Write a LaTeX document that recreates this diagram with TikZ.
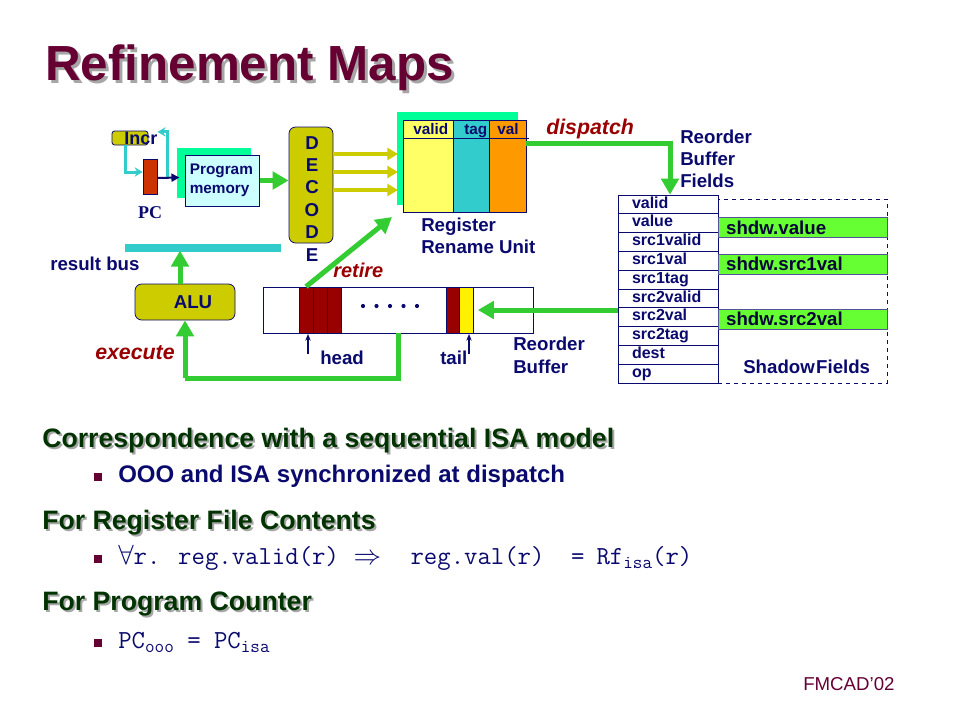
\documentclass[tikz,border=0pt]{standalone}
\usepackage{fontspec}
\setmainfont{Liberation Sans}
\newfontfamily\pcfont{Liberation Serif}
\usepackage{xcolor}
\usepackage{tikz}
\usetikzlibrary{positioning,arrows.meta,calc}

\definecolor{ink}{HTML}{0A0A6E}
\definecolor{titlered}{HTML}{660033}
\definecolor{darkred}{HTML}{990000}
\definecolor{grn}{HTML}{33CC33}
\definecolor{wirecyan}{HTML}{33CCCC}
\definecolor{olv}{HTML}{CCCC00}
\definecolor{mint}{HTML}{00FF99}
\definecolor{lightcy}{HTML}{CCFFFF}
\definecolor{lyellow}{HTML}{FFFF66}
\definecolor{orng}{HTML}{FF9900}
\definecolor{shgreen}{HTML}{66FF33}
\definecolor{pcred}{HTML}{CC3300}
\definecolor{headgreen}{HTML}{003300}
\definecolor{shade}{HTML}{A6A6A6}

\begin{document}
\begin{tikzpicture}[x=0.75pt,y=-0.75pt,
  txt/.style={inner sep=0pt, anchor=base west, text=ink,
              font=\bfseries\fontsize{14}{17}\selectfont},
  small/.style={txt, font=\bfseries\fontsize{11.5}{13}\selectfont},
  verb/.style={txt, text=darkred, font=\bfseries\itshape\fontsize{16}{18}\selectfont},
  garrow/.style={grn, line width=3.75pt, -{Triangle[width=13pt,length=12pt]}},
  yarrow/.style={olv, line width=3pt, -{Triangle[width=9pt,length=8pt]}},
  cwire/.style={wirecyan, line width=2.25pt, -{Stealth[width=7pt,length=6pt]}},
  field/.style={draw=ink, line width=0.6pt, fill=white, minimum width=75pt,
                minimum height=14.1pt, text width=54pt, inner xsep=10.5pt, inner ysep=0pt,
                align=left, text height=7.5pt, text depth=2pt, text=ink,
                font=\bfseries\fontsize{12}{13}\selectfont},
  shdw/.style={draw=ink!70, line width=0.5pt, fill=shgreen, anchor=west,
               minimum width=126.75pt, minimum height=15pt, text width=115pt,
               inner xsep=5.9pt, inner ysep=0pt, align=left, text=ink!50!black,
               font=\bfseries\fontsize{14}{16}\selectfont},
  slot/.style={draw=ink, line width=0.5pt, fill=darkred, minimum width=10.5pt,
               minimum height=34.5pt, inner sep=0pt},
  unit/.style={draw=ink, line width=0.6pt, rounded corners=5pt, fill=olv, inner sep=0pt},
  heading/.style={inner sep=0pt, anchor=base west, text=headgreen,
                  font=\bfseries\fontsize{20}{24}\selectfont},
  point/.style={inner sep=0pt, anchor=base west, text=ink,
                font=\bfseries\fontsize{18}{21}\selectfont},
  code/.style={inner sep=0pt, anchor=base west, text=ink,
               font=\ttfamily\fontsize{19.5}{22}\selectfont},
]
\useasboundingbox (0,0) rectangle (958,718);

% title
\node[inner sep=0pt, anchor=base west, text=shade, font=\bfseries\fontsize{37}{42}\selectfont]
  (titleshd) at (48,83) {Refinement Maps};
\node[inner sep=0pt, anchor=base west, text=titlered, font=\bfseries\fontsize{37}{42}\selectfont]
  (title) at (45,80) {Refinement Maps};

% fetch
\node[unit, rounded corners=2pt, minimum width=27pt, minimum height=10.5pt] (incr) at (130,138) {};
\node[txt, font=\bfseries\fontsize{13.5}{15}\selectfont] (incrlbl) at (124,144) {Incr};
\node[draw=ink, line width=0.5pt, fill=pcred, minimum width=10.5pt, minimum height=26pt,
      inner sep=0pt] (pc) at (150,177) {};
\node[inner sep=0pt, text=ink, font=\pcfont\bfseries\fontsize{13.5}{15}\selectfont] (pclbl) at (150,213) {PC};
\coordinate (pcout) at (167,178);
\draw[cwire] ($(incr.south)+(-5,0)$) |- (pc.west |- 0,172);
\draw[cwire] (pcout) |- ($(incrlbl.east)+(0,-6)$);
\fill[mint] (177,148) rectangle (251,198);
\node[draw=ink, line width=0.6pt, fill=lightcy, minimum width=54.75pt, minimum height=38.25pt,
      text width=49pt, inner xsep=3pt, align=left, text=ink,
      font=\bfseries\fontsize{11.5}{14}\selectfont] (pmem) at (222.5,180.5) {Program\\memory};
\draw[ink, line width=1.5pt, -{Triangle[width=6pt,length=6pt]}] (pc.east |- pcout) -- ($(pmem.west)+(-6,-3)$);

% decode
\node[unit, minimum width=33pt, minimum height=87pt] (dec) at (311,185) {};
\node[inner sep=0pt, anchor=north, text=ink, align=center,
      font=\bfseries\fontsize{14}{16.8}\selectfont] (declbl) at (312,136) {D\\E\\C\\O\\D\\E};
\draw[garrow] (pmem.east) -- (dec.west |- pmem.east);
\foreach \yy in {154,172,190}
  \draw[yarrow] (dec.east |- 0,\yy) -- (398,\yy);

% register rename unit
\fill[mint] (397,112) rectangle (518,205);
\node[draw=ink, line width=0.6pt, minimum width=92.25pt, minimum height=69pt, inner sep=0pt] (rru) at (464.5,166) {};
\fill[lyellow] (403,120) rectangle (453,212);
\fill[wirecyan] (453,120) rectangle (489,212);
\fill[orng] (489,120) rectangle (526,212);
\draw[ink, line width=0.6pt] (403,120) rectangle (526,212);
\draw[ink, line width=0.6pt] (453,120) -- (453,212) (489,120) -- (489,212);
\draw[ink, line width=0.6pt] (403,138) -- (529,138);
\node[small] (hvalid) at (413,134) {valid};
\node[small] (htag) at (464,134) {tag};
\node[small] (hval) at (497,134) {val};
\node[txt, align=left] (rrulbl) at (421,231) {Register};
\node[txt] (rrulbl2) at (421,253) {Rename Unit};

% dispatch to reorder buffer fields
\node[verb] (dsplbl) at (546,134) {dispatch};
\node[txt] (fldlbl) at (680,143) {Reorder};
\node[txt] (fldlbl2) at (680,165) {Buffer};
\node[txt] (fldlbl3) at (680,187) {Fields};
\foreach \f [count=\i from 0] in {valid,value,src1valid,src1val,src1tag,src2valid,src2val,src2tag,dest,op}
  \node[field] (fld-\i) at (668,{195+(\i+0.5)*18.8}) {\f};
\coordinate (dsp) at (670,143);
\draw[grn, line width=3.75pt] (rru.east |- dsp) -- (dsp);
\draw[garrow] ($(dsp)+(0,-2.5)$) -- (dsp |- fld-0.north);

% shadow fields
\draw[ink, line width=0.6pt, dashed] (718,199) rectangle (887,383);
\node[shdw] (shval) at (718,227.5) {shdw.value};
\node[shdw] (shsrc1) at (718,264) {shdw.src1val};
\node[shdw] (shsrc2) at (718,319) {shdw.src2val};
\node[txt] (shlbl) at (743,373) {Shadow\hspace{1pt}Fields};

% reorder buffer
\node[draw=ink, line width=0.6pt, fill=white, minimum width=202.5pt, minimum height=34.5pt,
      inner sep=0pt] (rob) at (398,310) {};
\node[slot] (hd1) at (306,310) {};
\node[slot] (hd2) at (320,310) {};
\node[slot] (hd3) at (334,310) {};
\node[slot] (tl1) at (453.5,310) {};
\node[slot, fill=yellow] (tl2) at (466.5,310) {};
\foreach \d in {0,...,4}
  \fill[ink] (363+\d*13.5,306) circle (2.1);
\node[txt] (headlbl) at (320,364) {head};
\node[txt] (taillbl) at (440,364) {tail};
\draw[ink, line width=0.8pt, -{Stealth[width=4pt,length=5pt]}] (308,354) -- (308,334);
\draw[ink, line width=0.8pt, -{Stealth[width=4pt,length=5pt]}] (469,354) -- (469,334);
\node[txt] (roblbl) at (513,350) {Reorder};
\node[txt] (roblbl2) at (513,373) {Buffer};
\draw[garrow] (fld-6.west |- tl2) -- ($(tl2.east)+(4,0)$);

% retire
\coordinate (rt) at (392,217);
\draw[garrow] (hd1.north) -- (rt);
\node[verb, font=\bfseries\itshape\fontsize{15}{17}\selectfont] (rtlbl) at (333,277) {retire};

% execute and result bus
\node[unit, minimum width=75pt, minimum height=27pt, text=ink,
      font=\bfseries\fontsize{14}{16}\selectfont] (alu) at (185,302) {\hspace{12pt}ALU};
\node[fill=wirecyan, minimum width=117pt, minimum height=6pt, inner sep=0pt] (bus) at (203,248) {};
\node[txt] (buslbl) at (50,270) {result bus};
\draw[garrow] ($(alu.north)+(-5,0)$) -- ($(alu.north)+(-5,-33)$);
\draw[grn, line width=3.75pt] (rob.south) |- (185,378);
\draw[garrow] (185,378) -- (alu.south);
\node[verb] (exlbl) at (95,359) {execute};

% correspondence text
\node[heading, text=shade] (h1s) at (44,449) {Correspondence with a sequential ISA model};
\node[heading] (h1) at (42,447) {Correspondence with a sequential ISA model};
\fill[titlered] (94,473) rectangle (102,481);
\node[point] (p1) at (118,482) {OOO and ISA synchronized at dispatch};

\node[heading, text=shade] (h2s) at (44,531) {For Register File Contents};
\node[heading] (h2) at (42,529) {For Register File Contents};
\fill[titlered] (94,555) rectangle (102,563);
\node[code] (p2) at (118,564)
  {$\forall$r. reg.valid(r)\hspace{11pt}$\Rightarrow$\hspace{22pt}reg.val(r)\hspace{20pt}=\hspace{9pt}Rf\raisebox{-3pt}{\fontsize{14}{14}\selectfont isa}(r)};

\node[heading, text=shade] (h3s) at (44,612) {For Program Counter};
\node[heading] (h3) at (42,610) {For Program Counter};
\fill[titlered] (94,639) rectangle (102,647);
\node[code] (p3) at (118,648)
  {PC\raisebox{-3pt}{\fontsize{14}{14}\selectfont ooo} = PC\raisebox{-3pt}{\fontsize{14}{14}\selectfont isa}};

\node[inner sep=0pt, anchor=base west, text=titlered, font=\fontsize{14}{16}\selectfont]
  (foot) at (803,690) {FMCAD’02};
\end{tikzpicture}
\end{document}
